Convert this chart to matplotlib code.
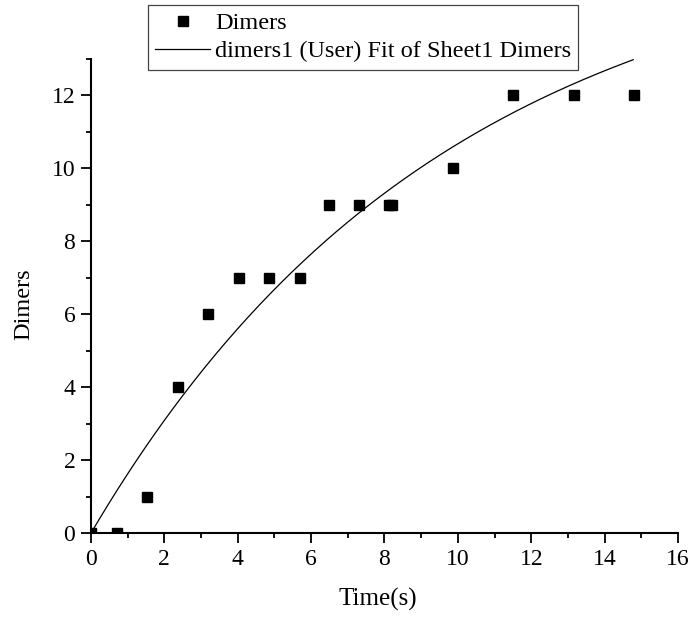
import numpy as np
import matplotlib
matplotlib.use("Agg")
import matplotlib.pyplot as plt
from matplotlib.ticker import MultipleLocator

plt.rcParams["font.family"] = ["Liberation Serif", "DejaVu Serif"]

# Measured dimer counts over time
time_s = [0.0, 0.72, 1.54, 2.36, 3.20, 4.04, 4.86, 5.69, 6.49, 7.31, 8.13, 8.21,
          9.86, 11.50, 13.16, 14.80]
dimers = [0, 0, 1, 4, 6, 7, 7, 7, 9, 9, 9, 9, 10, 12, 12, 12]

# User fit: y = A * (1 - exp(-k * t))
fit_A = 16.6
fit_k = 0.103
fit_t_max = 14.78

fig = plt.figure(figsize=(6.94, 6.20), dpi=100)
ax = fig.add_axes([0.131, 0.140, 0.846, 0.765])

t_fit = np.linspace(0.0, fit_t_max, 300)
y_fit = fit_A * (1.0 - np.exp(-fit_k * t_fit))

ax.plot(time_s, dimers, linestyle="none", marker="s", markersize=7.2,
        color="black", label="Dimers", zorder=3)
ax.plot(t_fit, y_fit, color="black", linewidth=0.9,
        label="dimers1 (User) Fit of Sheet1 Dimers", zorder=2)

ax.set_xlim(0, 16)
ax.set_ylim(0, 13)
ax.xaxis.set_major_locator(MultipleLocator(2))
ax.xaxis.set_minor_locator(MultipleLocator(1))
ax.yaxis.set_major_locator(MultipleLocator(2))
ax.yaxis.set_minor_locator(MultipleLocator(1))

for side in ("top", "right"):
    ax.spines[side].set_visible(False)
for side in ("left", "bottom"):
    ax.spines[side].set_linewidth(1.5)
    ax.spines[side].set_zorder(4)

ax.tick_params(which="major", direction="out", length=7.2, width=1.3,
               labelsize=17, pad=4)
ax.tick_params(which="minor", direction="out", length=3.8, width=1.3)

ax.set_xlabel("Time(s)", fontsize=18)
ax.set_ylabel("Dimers", fontsize=17.5)
ax.xaxis.set_label_coords(0.488, -0.115)
ax.yaxis.set_label_coords(-0.097, 0.483)

leg = ax.legend(loc="upper left", bbox_to_anchor=(148 / 694, 1 - 5 / 620),
                bbox_transform=fig.transFigure, borderaxespad=0,
                fancybox=False, frameon=True, edgecolor="#444444",
                fontsize=17.5, handlelength=2.25, handletextpad=0.2,
                borderpad=0.3, labelspacing=0.25, framealpha=1)
leg.get_frame().set_linewidth(0.9)

fig.savefig("out.png", dpi=100)
